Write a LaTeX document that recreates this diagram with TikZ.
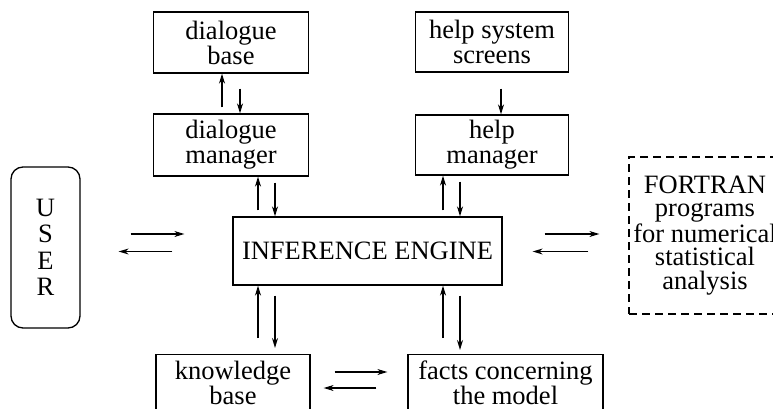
\documentclass[tikz,border=0pt]{standalone}
\usepackage{fontspec}
\setmainfont{Liberation Serif}
\usetikzlibrary{arrows.meta}
\begin{document}
\begin{tikzpicture}[x=1pt,y=-1pt,
  font=\fontsize{26.5}{25}\selectfont,
  box/.style={draw, line width=1.3pt, align=center, inner sep=0pt},
  arr/.style={line width=1.3pt, -{Stealth[length=10pt,width=6pt]}},
  harr/.style={line width=1.1pt, -{Stealth[length=10pt,width=6pt]}}]
\useasboundingbox (0,0) rectangle (773,409);
% boxes
\node[box, minimum width=155pt, minimum height=61pt] (db) at (231,42.5) {dialogue\\base};
\node[box, minimum width=153pt, minimum height=60pt] (hs) at (492,42) {help system\\screens};
\node[box, minimum width=155pt, minimum height=62pt] (dm) at (231,145) {dialogue\\manager};
\node[box, minimum width=153pt, minimum height=60pt] (hm) at (492,145) {help\\manager};
\node[box, minimum width=269pt, minimum height=68pt] (ie) at (367.5,251) {INFERENCE ENGINE};
\node[box, minimum width=154pt, anchor=north, inner ysep=6pt, inner xsep=0pt] (kb) at (233,354) {knowledge\\base};
\node[box, minimum width=195pt, anchor=north, inner ysep=6pt, inner xsep=0pt] (fc) at (505.5,354) {facts concerning\\the model};
\node[box, rounded corners=12pt, minimum width=69pt, minimum height=161pt,
      font=\fontsize{26.5}{26.5}\selectfont] (user) at (45.5,247.5) {U\\S\\E\\R};
\node[box, dash pattern=on 8pt off 5pt, minimum width=152pt, minimum height=157pt,
      font=\fontsize{26.5}{23.5}\selectfont] (ft) at (705,235.5) {FORTRAN\\programs\\for numerical\\statistical\\analysis};
% helper coordinates
\coordinate (c1) at (222,0);
\coordinate (c2) at (240,0);
\coordinate (c3) at (501,0);
\coordinate (c4) at (258,0);
\coordinate (c5) at (275,0);
\coordinate (c6) at (443,0);
\coordinate (c7) at (460,0);
\coordinate (r1) at (0,234);
\coordinate (r2) at (0,251.5);
\coordinate (r3) at (0,372);
\coordinate (r4) at (0,388);
% vertical arrows
\draw[arr, shorten <=6pt] (dm.north -| c1) -- (db.south -| c1);
\draw[arr, shorten <=15pt] (db.south -| c2) -- (dm.north -| c2);
\draw[arr, shorten <=16pt] (hs.south -| c3) -- (hm.north -| c3);
\draw[arr, shorten <=6pt] (ie.north -| c4) -- (dm.south -| c4);
\draw[arr, shorten <=6pt] (dm.south -| c5) -- (ie.north -| c5);
\draw[arr, shorten <=6pt] (ie.north -| c6) -- (hm.south -| c6);
\draw[arr, shorten <=6pt] (hm.south -| c7) -- (ie.north -| c7);
\draw[arr, shorten <=16pt] (kb.north -| c4) -- (ie.south -| c4);
\draw[arr, shorten <=10pt, shorten >=6pt] (ie.south -| c5) -- (kb.north -| c5);
\draw[arr, shorten <=16pt] (fc.north -| c6) -- (ie.south -| c6);
\draw[arr, shorten <=10pt, shorten >=4pt] (ie.south -| c7) -- (fc.north -| c7);
% horizontal arrows
\draw[harr, shorten <=50pt, shorten >=48pt] (user.east |- r1) -- (ie.west |- r1);
\draw[harr, shorten <=60pt, shorten >=38pt] (ie.west |- r2) -- (user.east |- r2);
\draw[harr, shorten <=42pt, shorten >=29pt] (ie.east |- r1) -- (ft.west |- r1);
\draw[harr, shorten <=40pt, shorten >=30pt] (ft.west |- r2) -- (ie.east |- r2);
\draw[harr, shorten <=24pt, shorten >=20pt] (kb.east |- r3) -- (fc.west |- r3);
\draw[harr, shorten <=31pt, shorten >=13pt] (fc.west |- r4) -- (kb.east |- r4);
\end{tikzpicture}
\end{document}
